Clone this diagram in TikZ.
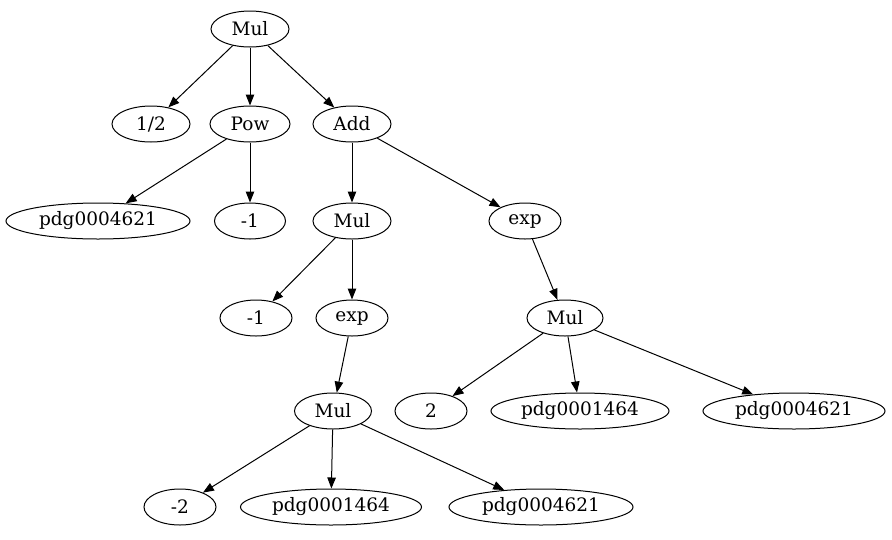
\documentclass[tikz,border=0pt]{standalone}
\usepackage{fontspec}
\setmainfont{DejaVu Serif}
\usetikzlibrary{shapes.geometric,arrows.meta}
\begin{document}
\begin{tikzpicture}[x=1pt,y=-1pt,
  nd/.style={ellipse,draw,line width=1pt,inner sep=0pt,minimum height=36pt,
    font=\fontsize{18.5}{20}\selectfont},
  edge/.style={line width=1pt,-{Triangle[length=11pt,width=8.5pt]}}]
\useasboundingbox (0,0) rectangle (892,539);
\node[nd,minimum width=78pt] (m0) at (250,29) {Mul};
\node[nd,minimum width=78pt] (half) at (151,124) {1/2};
\node[nd,minimum width=80pt] (pow) at (250,124) {Pow};
\node[nd,minimum width=78pt] (add) at (352,124) {Add};
\node[nd,minimum width=184pt] (p1) at (98,221) {pdg0004621};
\node[nd,minimum width=71pt] (n1) at (250,221) {-1};
\node[nd,minimum width=78pt] (m1) at (352,221) {Mul};
\node[nd,minimum width=72pt] (e1) at (525,221) {exp};
\node[nd,minimum width=72pt] (n2) at (256,318) {-1};
\node[nd,minimum width=72pt] (e2) at (352,318) {exp};
\node[nd,minimum width=76pt] (m2) at (565,318) {Mul};
\node[nd,minimum width=77pt] (m3) at (333,411) {Mul};
\node[nd,minimum width=72pt] (two) at (431,411) {2};
\node[nd,minimum width=178pt] (p2) at (580,411) {pdg0001464};
\node[nd,minimum width=182pt] (p3) at (794,411) {pdg0004621};
\node[nd,minimum width=72pt] (nt) at (180,507) {-2};
\node[nd,minimum width=181pt] (p4) at (331,507) {pdg0001464};
\node[nd,minimum width=184pt] (p5) at (541,507) {pdg0004621};
\draw[edge] (m0) -- (half);
\draw[edge] (m0) -- (pow);
\draw[edge] (m0) -- (add);
\draw[edge] (pow) -- (p1);
\draw[edge] (pow) -- (n1);
\draw[edge] (add) -- (m1);
\draw[edge] (add) -- (e1);
\draw[edge] (m1) -- (n2);
\draw[edge] (m1) -- (e2);
\draw[edge] (e1) -- (m2);
\draw[edge] (e2) -- (m3);
\draw[edge] (m2) -- (two);
\draw[edge] (m2) -- (p2);
\draw[edge] (m2) -- (p3);
\draw[edge] (m3) -- (nt);
\draw[edge] (m3) -- (p4);
\draw[edge] (m3) -- (p5);
\end{tikzpicture}
\end{document}
